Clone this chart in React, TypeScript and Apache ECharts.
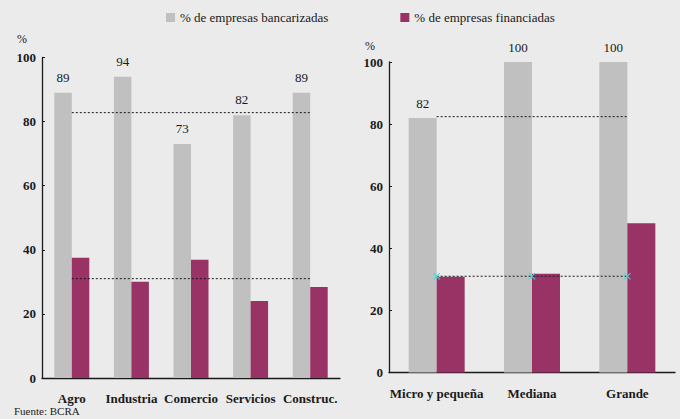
import React, { useEffect, useRef } from "react";
import * as echarts from "echarts";

const sectorCats = ["Agro", "Industria", "Comercio", "Servicios", "Construc."];
const sectorBank = [89, 94, 73, 82, 89];
const sectorFin = [37.5, 30, 36.9, 24, 28.4];
const sectorAvgBank = 82.8;
const sectorAvgFin = 31;

const sizeCats = ["Micro y pequeña", "Mediana", "Grande"];
const sizeBank = [82, 100, 100];
const sizeFin = [30.8, 31.8, 48.1];
const sizeAvgBank = 82.4;
const sizeAvgFin = 31;

const yTicks = { min: 0, max: 100, interval: 20 };

const GRAY = "#c0c0c0";
const PURPLE = "#993366";
const INK = "#1a1a1a";
const FONT = "Liberation Serif";
const xMark = "path://M0,1 L1,0 L5,4 L9,0 L10,1 L6,5 L10,9 L9,10 L5,6 L1,10 L0,9 L4,5 Z";

export default function App() {
  const ref = useRef<HTMLDivElement>(null);
  useEffect(() => {
    if (!ref.current) return;
    const chart = echarts.init(ref.current, null, { renderer: "svg" });
    const yAxisBase = (gridIndex: number) => ({
      type: "value",
      gridIndex,
      min: yTicks.min,
      max: yTicks.max,
      interval: yTicks.interval,
      splitLine: { show: false },
      axisLine: { show: true, lineStyle: { color: INK, width: 1.3 } },
      axisTick: { show: true, inside: true, length: 3, lineStyle: { color: INK } },
      axisLabel: { color: INK, fontFamily: FONT, fontWeight: "bold", fontSize: 13, margin: 6 },
    });
    const xAxisBase = (gridIndex: number, data: string[]) => ({
      type: "category",
      gridIndex,
      data,
      axisLine: { show: true, lineStyle: { color: INK, width: 1.3 } },
      axisTick: { show: false },
      axisLabel: { color: INK, fontFamily: FONT, fontWeight: "bold", fontSize: 13, margin: 14, interval: 0 },
    });
    const avgLine = (name: string, cats: string[], v: number, idx: number, marker: boolean) => ({
      name,
      type: "line",
      xAxisIndex: idx,
      yAxisIndex: idx,
      data: cats.map(() => v),
      z: 5,
      showSymbol: marker,
      symbol: marker ? xMark : "none",
      symbolSize: 7,
      itemStyle: { color: "#2fe0e6" },
      lineStyle: { color: INK, width: 1, type: [2, 2] },
      silent: true,
    });
    const labelStyle = (distance: number) => ({
      show: true,
      position: "top",
      distance,
      color: INK,
      fontFamily: FONT,
      fontSize: 13,
    });
    chart.setOption({
      animation: false,
      backgroundColor: "#ebebeb",
      textStyle: { fontFamily: FONT },
      legend: {
        data: ["% de empresas bancarizadas", "% de empresas financiadas"],
        left: 166,
        top: 11,
        padding: 0,
        icon: "rect",
        itemWidth: 9,
        itemHeight: 9,
        itemGap: 72,
        itemTextGap: 3,
        textStyle: { color: INK, fontFamily: FONT, fontSize: 13 },
      },
      grid: [
        { left: 42, right: 340, top: 57.5, bottom: 41 },
        { left: 389, right: 5, top: 62, bottom: 46.5 },
      ],
      xAxis: [xAxisBase(0, sectorCats), xAxisBase(1, sizeCats)],
      yAxis: [yAxisBase(0), yAxisBase(1)],
      graphic: [
        { type: "text", left: 17, top: 33, style: { text: "%", fontFamily: FONT, fontSize: 12, fill: INK } },
        { type: "text", left: 365, top: 40, style: { text: "%", fontFamily: FONT, fontSize: 12, fill: INK } },
        { type: "text", left: 14, top: 405, style: { text: "Fuente: BCRA", fontFamily: FONT, fontSize: 11, fill: INK } },
      ],
      series: [
        {
          name: "% de empresas bancarizadas",
          type: "bar",
          xAxisIndex: 0,
          yAxisIndex: 0,
          data: sectorBank,
          barWidth: 17.5,
          barGap: "0%",
          itemStyle: { color: GRAY },
          label: labelStyle(9),
        },
        {
          name: "% de empresas financiadas",
          type: "bar",
          xAxisIndex: 0,
          yAxisIndex: 0,
          data: sectorFin,
          barWidth: 17.5,
          barGap: "0%",
          itemStyle: { color: PURPLE },
        },
        {
          name: "% de empresas bancarizadas",
          type: "bar",
          xAxisIndex: 1,
          yAxisIndex: 1,
          data: sizeBank,
          barWidth: 28,
          barGap: "0%",
          itemStyle: { color: GRAY },
          label: labelStyle(8),
        },
        {
          name: "% de empresas financiadas",
          type: "bar",
          xAxisIndex: 1,
          yAxisIndex: 1,
          data: sizeFin,
          barWidth: 28,
          barGap: "0%",
          itemStyle: { color: PURPLE },
        },
        avgLine("promedio bancarizadas sector", sectorCats, sectorAvgBank, 0, false),
        avgLine("promedio financiadas sector", sectorCats, sectorAvgFin, 0, false),
        avgLine("promedio bancarizadas tamaño", sizeCats, sizeAvgBank, 1, false),
        avgLine("promedio financiadas tamaño", sizeCats, sizeAvgFin, 1, true),
      ],
    });
    return () => chart.dispose();
  }, []);
  return <div ref={ref} style={{ width: 680, height: 419, position: "absolute", left: 0, top: 0 }} />;
}
